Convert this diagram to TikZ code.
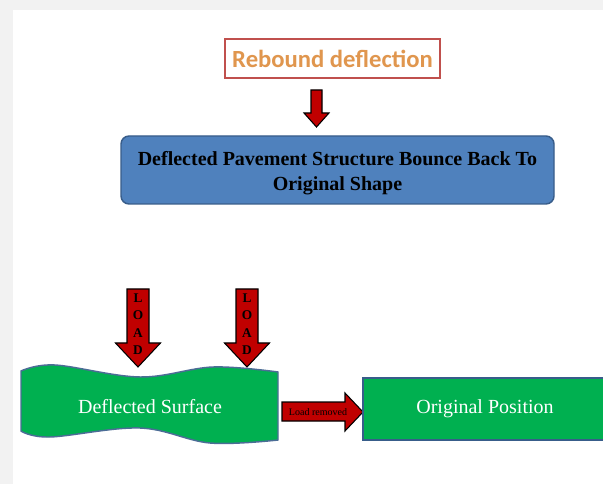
\documentclass[tikz,border=0pt]{standalone}
\usepackage{fontspec}
\setmainfont{Liberation Serif}
\newfontfamily\calibri{Carlito}
\usepackage{tikz}
\definecolor{pagegray}{HTML}{F2F2F2}
\definecolor{loadred}{HTML}{C00000}
\definecolor{titlered}{HTML}{C0504D}
\definecolor{titleorange}{HTML}{E0964E}
\definecolor{boxblue}{HTML}{4F81BD}
\definecolor{edgeblue}{HTML}{385D8A}
\definecolor{surfgreen}{HTML}{00B050}

\begin{document}
\begin{tikzpicture}[x=0.75pt,y=-0.75pt]
				\tikzstyle{blockarrow}=[fill=loadred,draw=black,line width=0.8pt,line join=miter]
				\tikzstyle{titlebox}=[draw=titlered,line width=1.5pt,fill=white,minimum width=161.25pt,minimum height=29.25pt,font=\calibri\bfseries\fontsize{18.5}{20}\selectfont,text=titleorange]
				\tikzstyle{stepbox}=[draw=edgeblue,line width=1.1pt,fill=boxblue,rounded corners=6pt,minimum width=324.75pt,minimum height=51pt,align=center,font=\bfseries\fontsize{15}{18.75}\selectfont]
				\tikzstyle{greenbox}=[draw=edgeblue,line width=2pt,fill=surfgreen,minimum width=183pt,minimum height=46.5pt,text=white,font=\fontsize{15}{18}\selectfont]
				\tikzstyle{wave}=[draw=edgeblue!90,line width=1.1pt,fill=surfgreen]
				\tikzstyle{arrowtext}=[inner sep=0pt,align=center,font=\bfseries\fontsize{10}{13}\selectfont]
				
				\clip (0,0) rectangle (603,484);
				\fill[pagegray] (0,0) rectangle (603,484);
				\fill[white] (13,10) rectangle (603,484);
				
				% top of the chart
				\node[titlebox] (rebound) at (332.5,58.5) {Rebound deflection};
				\filldraw[blockarrow] (311,90) -- (322,90) -- (322,113) -- (329,113) -- (316.5,127) -- (304,113) -- (311,113) -- cycle;
				\node[stepbox] (bounce) at (337.5,170) {\rule{0pt}{16pt}Deflected Pavement Structure Bounce Back To\\Original Shape};
				
				% loads on the surface
				\foreach \x/\name in {138/loadleft,247/loadright}{
					\filldraw[blockarrow] (\x-11,289) -- (\x+11,289) -- (\x+11,343) -- (\x+22.5,343) -- (\x,367) -- (\x-22.5,343) -- (\x-11,343) -- cycle;
					\node[arrowtext] (\name) at (\x,324) {L\\O\\A\\D};
				}
				
				\filldraw[wave] (21,431) -- plot[smooth,tension=0.6] coordinates {(21,371) (55,365) (140,377) (213,367) (278,372)}
					-- plot[smooth,tension=0.6] coordinates {(278,440) (210,443) (140,428) (50,437) (21,431)} -- cycle;
				\node[text=white,font=\fontsize{15}{18}\selectfont] (surface) at (150,407) {Deflected Surface};
				
				\filldraw[blockarrow] (282,402) -- (345,402) -- (345,393) -- (363,412) -- (345,431) -- (345,421) -- (282,421) -- cycle;
				\node[inner sep=0pt,font=\fontsize{7.5}{9}\selectfont] (removed) at (318,412) {Load removed};
				
				\node[greenbox] (original) at (485,409) {Original Position};
\end{tikzpicture}
\end{document}
